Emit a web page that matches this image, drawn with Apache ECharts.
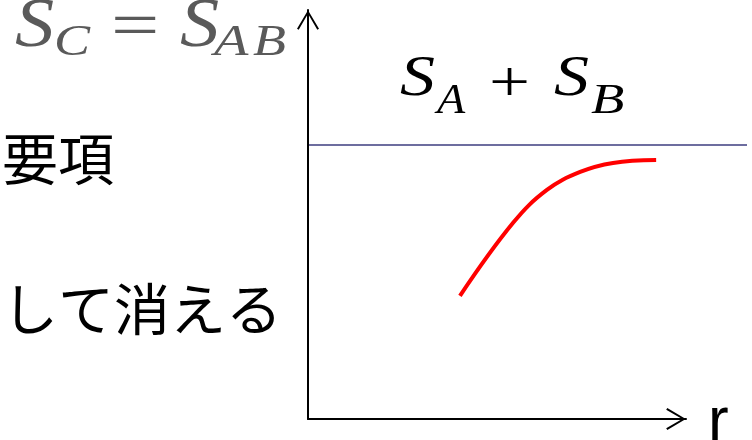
<!DOCTYPE html>
<html>
<head>
<meta charset="utf-8">
<script src="https://cdn.jsdelivr.net/npm/echarts@6/dist/echarts.min.js"></script>
<style>
  html, body { margin: 0; padding: 0; background: #fff; }
  #chart { width: 752px; height: 440px; }
</style>
</head>
<body>
<div id="chart"></div>
<script>
// red curve (r in % of axis, S in % of axis)
const curveR = [40.2, 54.2, 63.2, 72.0, 80.7, 92.1];
const curveS = [30.1, 47.9, 56.0, 60.4, 62.6, 63.3];
// level of S_A + S_B, drawn across the whole right side
const levelSum = 67.0;
const levelSpan = [0, 1];
const axisName = 'r';

const chart = echarts.init(document.getElementById('chart'), null, { renderer: 'canvas' });

// open arrow head like the slide's
const chevron = 'path://M11,0 L22,18.5 L20.3,19.6 L11,3.6 L1.7,19.6 L0,18.5 Z';

const mathFont = 'Liberation Serif';
const jpFont = 'Noto Sans CJK JP';

function mathText(x, y, text, size, italic, color, sx) {
  return {
    type: 'text', x: x, y: y, scaleX: sx || 1,
    style: {
      text: text, fill: color,
      fontFamily: mathFont, fontSize: size, fontStyle: italic ? 'italic' : 'normal',
      align: 'left', verticalAlign: 'middle'
    }
  };
}

const grey = '#5a5a5a';

const option = {
  animation: false,
  backgroundColor: '#fff',
  grid: [
    { left: 308, right: 66, top: 10, bottom: 21 },
    { left: 309, right: 5, top: 10, bottom: 21 }
  ],
  xAxis: [
    {
      type: 'value', gridIndex: 0, min: 0, max: 100,
      axisLine: {
        onZero: false,
        lineStyle: { color: '#000', width: 2 },
        symbol: ['none', chevron], symbolSize: [22, 20], symbolOffset: [0, -10]
      },
      axisTick: { show: false }, axisLabel: { show: false }, splitLine: { show: false }
    },
    {
      type: 'value', gridIndex: 1, min: 0, max: 1, show: false
    }
  ],
  yAxis: [
    {
      type: 'value', gridIndex: 0, min: 0, max: 100,
      axisLine: {
        show: true, onZero: false,
        lineStyle: { color: '#000', width: 2 },
        symbol: ['none', chevron], symbolSize: [22, 20], symbolOffset: [0, -10]
      },
      axisTick: { show: false }, axisLabel: { show: false }, splitLine: { show: false }
    },
    {
      type: 'value', gridIndex: 1, min: 0, max: 100, show: false
    }
  ],
  series: [
    {
      type: 'line', xAxisIndex: 1, yAxisIndex: 1,
      data: levelSpan.map(r => [r, levelSum]),
      showSymbol: false, silent: true,
      lineStyle: { color: '#6d6d9f', width: 2 }
    },
    {
      type: 'line', xAxisIndex: 0, yAxisIndex: 0,
      data: curveR.map((r, i) => [r, curveS[i]]),
      smooth: 0.4, showSymbol: false, silent: true,
      lineStyle: { color: '#ff0000', width: 4, cap: 'butt' }
    }
  ],
  graphic: [
    // S_C = S_AB
    mathText(15, 28, 'S', 70, true, grey, 1.12),
    mathText(54, 43, 'C', 45, true, grey, 1.2),
    mathText(111, 30, '=', 66, false, grey, 1.3),
    mathText(180, 28, 'S', 70, true, grey, 1.12),
    mathText(214, 43, 'A', 45, true, grey, 1.25),
    mathText(253, 43, 'B', 45, true, grey, 1.2),
    // S_A + S_B (slide picture is stretched sideways)
    mathText(400, 80, 'S', 56, true, '#000', 1.25),
    mathText(437, 102, 'A', 42, true, '#000', 1.1),
    mathText(489, 86, '+', 56, false, '#000', 1.3),
    mathText(554, 80, 'S', 56, true, '#000', 1.25),
    mathText(591, 102, 'B', 42, true, '#000', 1.3),
    // slide text, cut at the left edge
    {
      type: 'text', x: 114, y: 159,
      style: { text: '要項', fill: '#000', fontFamily: jpFont, fontSize: 56, align: 'right', verticalAlign: 'middle' }
    },
    {
      type: 'text', x: 282, y: 309,
      style: { text: 'して消える', fill: '#000', fontFamily: jpFont, fontSize: 56, align: 'right', verticalAlign: 'middle' }
    },
    {
      type: 'text', x: 708, y: 423,
      style: { text: axisName, fill: '#000', fontFamily: 'Liberation Sans', fontSize: 62, align: 'left', verticalAlign: 'middle' }
    }
  ]
};

chart.setOption(option);
</script>
</body>
</html>
